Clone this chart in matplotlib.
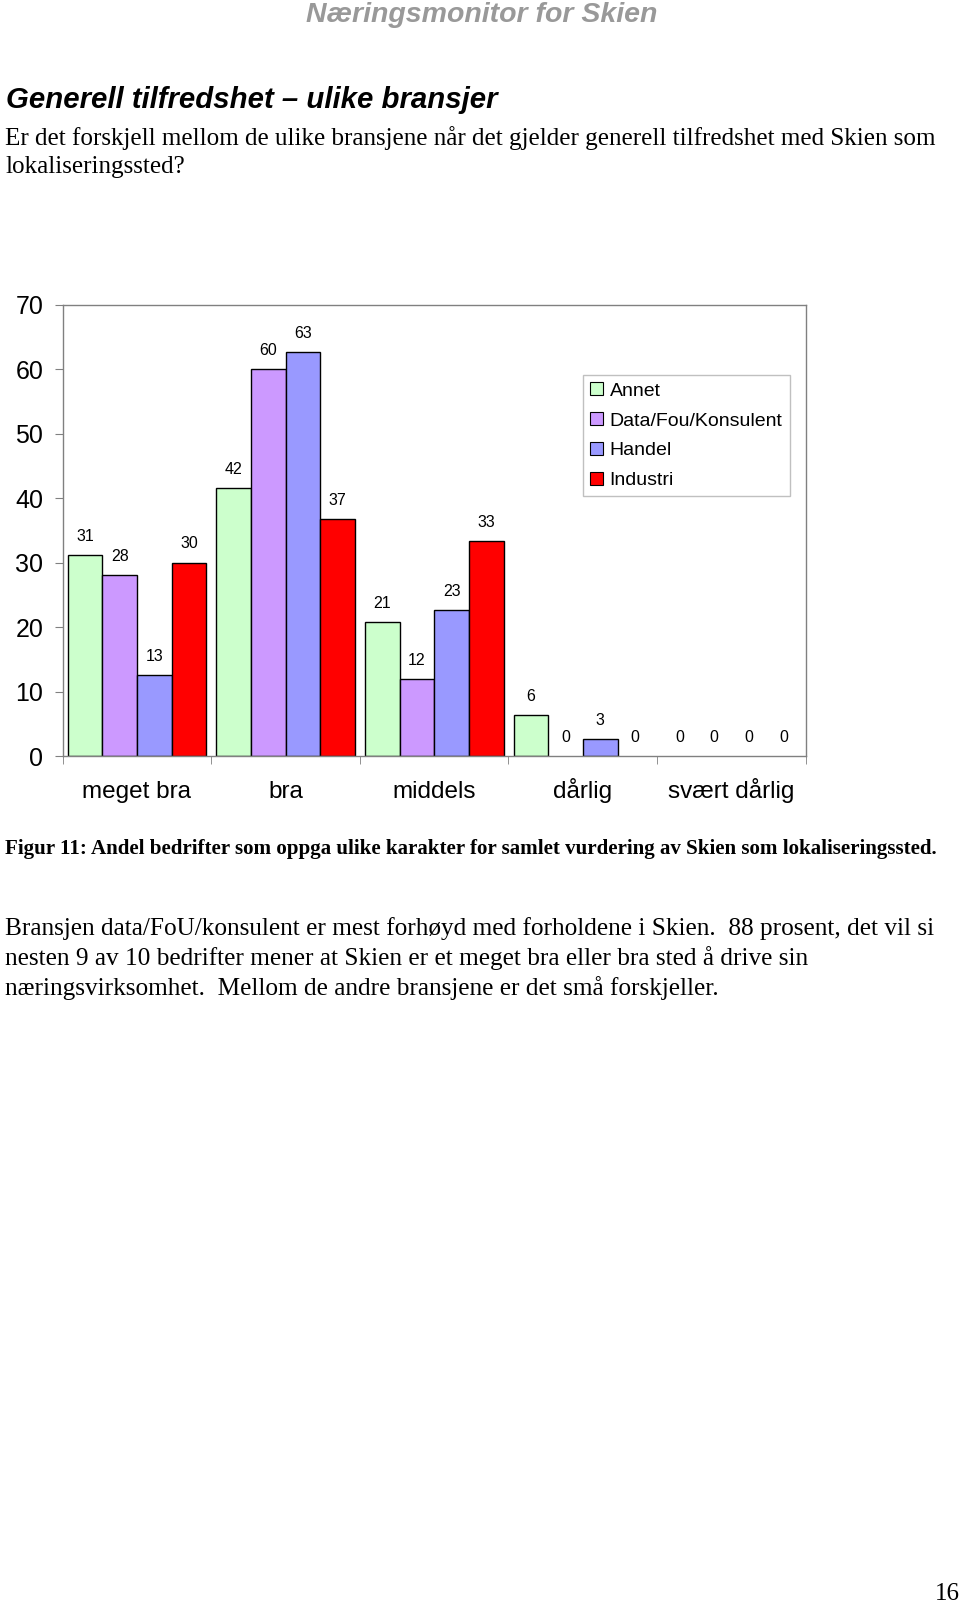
import matplotlib
matplotlib.use("Agg")
import matplotlib.pyplot as plt
import numpy as np
from matplotlib.patches import Patch

categories = ["meget bra", "bra", "middels", "dårlig", "svært dårlig"]
series_names = ["Annet", "Data/Fou/Konsulent", "Handel", "Industri"]
annet = [31.2, 41.6, 20.8, 6.3, 0]
data_fou = [28.0, 60.0, 11.9, 0, 0]
handel = [12.6, 62.6, 22.6, 2.6, 0]
industri = [30.0, 36.7, 33.4, 0, 0]
y_ticks = [0, 10, 20, 30, 40, 50, 60, 70]

series = [annet, data_fou, handel, industri]
colors = ["#CCFFCC", "#CC99FF", "#9999FF", "#FF0000"]

SANS = "Liberation Sans"
SERIF = "Liberation Serif"

fig = plt.figure(figsize=(9.6, 16.04), dpi=100)

# page texts
fig.text(482 / 960, 1 - 15 / 1604, "Næringsmonitor for Skien", ha="center", va="center",
         fontsize=20.5, fontweight="bold", fontstyle="italic", color="#999999", family=SANS)
fig.text(6 / 960, 1 - 100 / 1604, "Generell tilfredshet \u2013 ulike bransjer", ha="left", va="center",
         fontsize=21.2, fontweight="bold", fontstyle="italic", color="black", family=SANS)
fig.text(5 / 960, 1 - 138 / 1604,
         "Er det forskjell mellom de ulike bransjene når det gjelder generell tilfredshet med Skien som",
         ha="left", va="center", fontsize=18.1, family=SERIF)
fig.text(5 / 960, 1 - 167 / 1604, "lokaliseringssted?", ha="left", va="center", fontsize=18.1, family=SERIF)
fig.text(5 / 960, 1 - 849 / 1604,
         "Figur 11: Andel bedrifter som oppga ulike karakter for samlet vurdering av Skien som lokaliseringssted.",
         ha="left", va="center", fontsize=15.1, fontweight="bold", family=SERIF)
body = ["Bransjen data/FoU/konsulent er mest forhøyd med forholdene i Skien.  88 prosent, det vil si",
        "nesten 9 av 10 bedrifter mener at Skien er et meget bra eller bra sted å drive sin",
        "næringsvirksomhet.  Mellom de andre bransjene er det små forskjeller."]
for i, line in enumerate(body):
    fig.text(5 / 960, 1 - (929 + 29.3 * i) / 1604, line, ha="left", va="center", fontsize=18.2, family=SERIF)
fig.text(947 / 960, 1 - 1594 / 1604, "16", ha="center", va="center", fontsize=18, family=SERIF)

# chart
ax = fig.add_axes([62.7 / 960, 1 - 756 / 1604, (805.7 - 62.7) / 960, (756 - 304.7) / 1604])
n = len(categories)
bw = 0.2335
x0 = np.arange(n)
start = 5 / 148.6
for k, (vals, c) in enumerate(zip(series, colors)):
    xs = x0 + start + bw * k + bw / 2
    lws = [1.0 if v > 0 else 0.0 for v in vals]
    ax.bar(xs, vals, width=bw, color=c, edgecolor="black", linewidth=lws, zorder=2)
    for xx, v in zip(xs, vals):
        ax.annotate(f"{v:.0f}", (xx, v), xytext=(0, 8), textcoords="offset points",
                    ha="center", va="bottom", fontsize=11.5, family=SANS)

ax.set_xlim(0, n)
ax.set_ylim(0, 70)
ax.set_yticks(y_ticks)
ax.set_yticklabels([str(t) for t in y_ticks], fontsize=18, family=SANS)
ax.set_xticks(x0 + 0.5)
ax.set_xticklabels(categories, fontsize=17.5, family=SANS, va="baseline")
ax.set_xticks(np.arange(n + 1), minor=True)
ax.tick_params(axis="x", which="major", length=0, pad=30)
ax.tick_params(axis="x", which="minor", length=6, color="#808080", direction="out")
ax.tick_params(axis="y", length=6, color="#808080", pad=8, direction="out")
for s in ax.spines.values():
    s.set_color("#808080")
    s.set_linewidth(1.0)

handles = [Patch(facecolor=c, edgecolor="black", linewidth=0.8) for c in colors]
leg = ax.legend(handles, series_names, loc="upper left", bbox_to_anchor=(0.700, 0.844),
                borderaxespad=0, fancybox=False, framealpha=1, edgecolor="#C0C0C0",
                prop={"family": SANS, "size": 14}, handlelength=0.65, handleheight=0.65,
                handletextpad=0.35, labelspacing=0.64, borderpad=0.38)
leg.get_frame().set_linewidth(1.0)

fig.savefig("out.png", dpi=100)
